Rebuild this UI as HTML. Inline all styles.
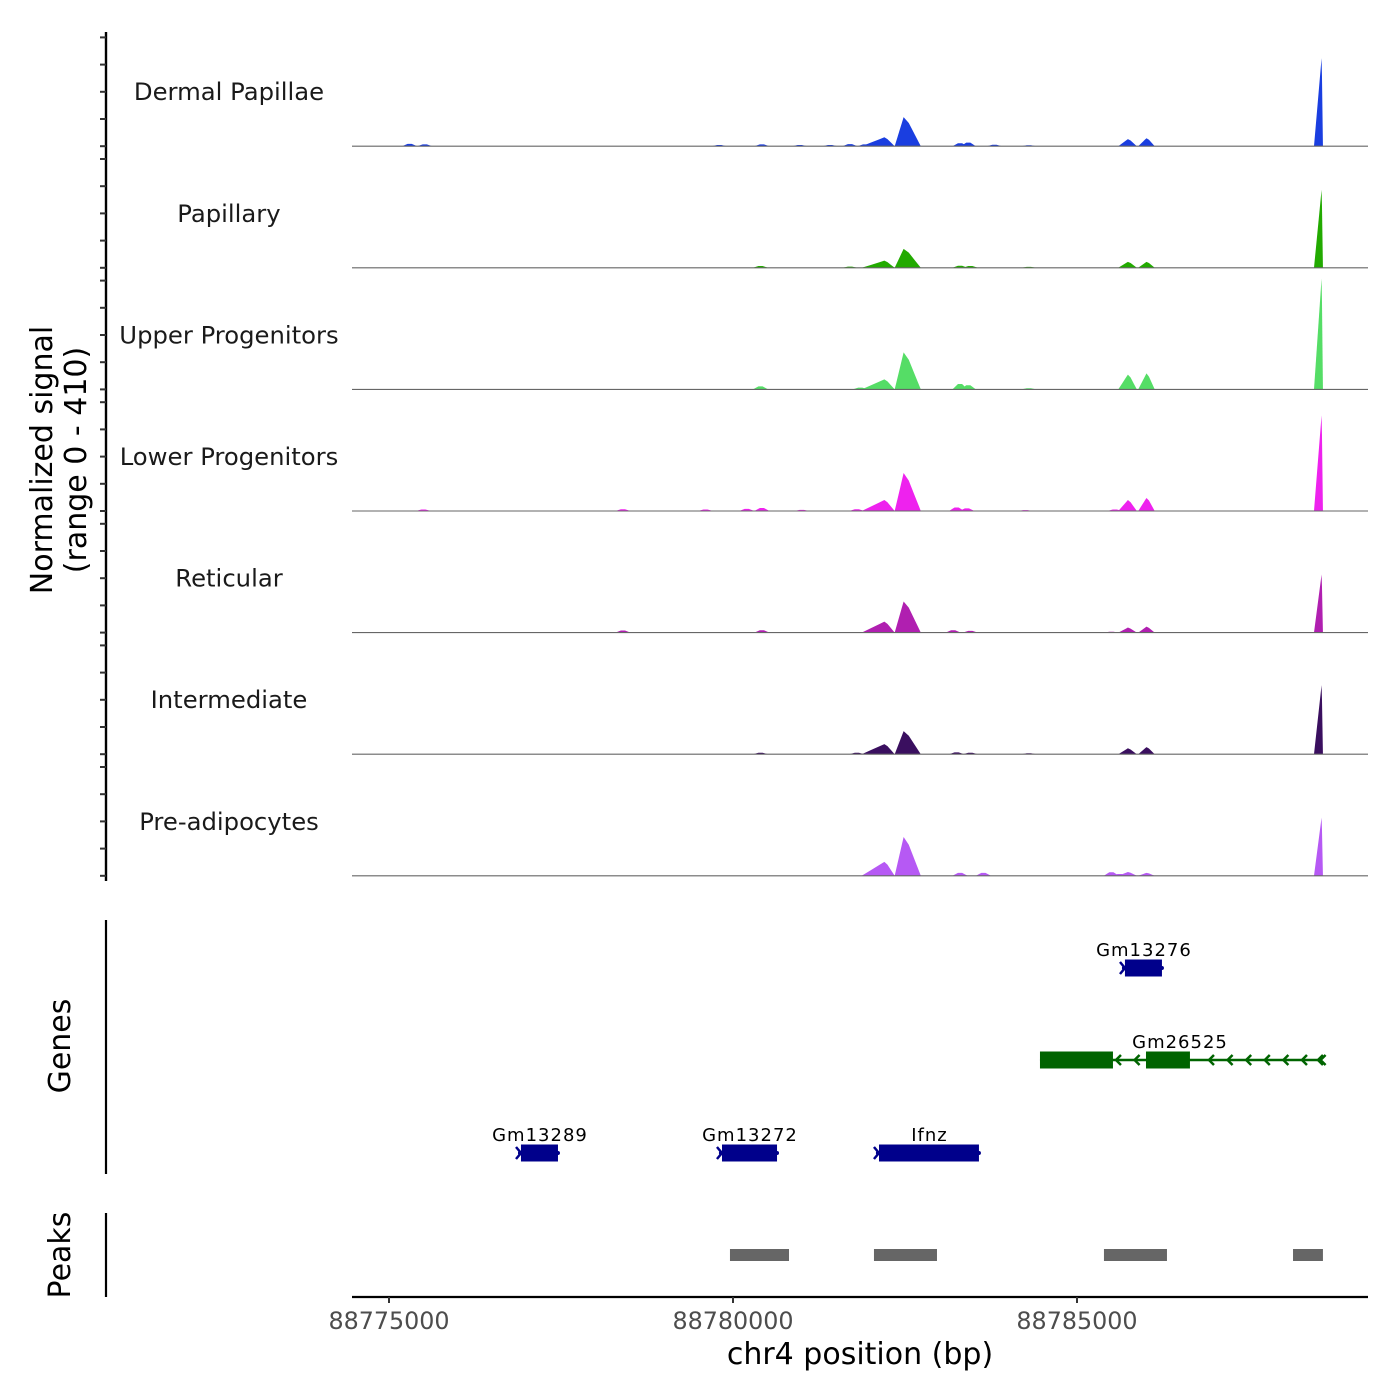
<!DOCTYPE html>
<html><head><meta charset="utf-8"><style>
html,body{margin:0;padding:0;background:#fff}
svg{display:block;font-family:"DejaVu Sans","Liberation Sans",sans-serif}
</style></head><body>
<svg id="chart" width="1400" height="1400" viewBox="0 0 1400 1400">
<g id="tracks"></g>
<g id="leftaxis"></g>
<text transform="translate(52,460) rotate(-90)" text-anchor="middle" font-size="30" fill="#000">Normalized signal</text>
<text transform="translate(86,460) rotate(-90)" text-anchor="middle" font-size="30" fill="#000">(range 0 - 410)</text>
<line x1="106" y1="920" x2="106" y2="1174" stroke="#000" stroke-width="2.2"/>
<text transform="translate(70,1046) rotate(-90)" text-anchor="middle" font-size="30" fill="#000">Genes</text>
<line x1="106" y1="1213" x2="106" y2="1297" stroke="#000" stroke-width="2.2"/>
<text transform="translate(70,1255) rotate(-90)" text-anchor="middle" font-size="30" fill="#000">Peaks</text>
<g id="genes"></g>
<g id="peaks"></g>
<g id="xaxis"></g>
<text x="860" y="1364" text-anchor="middle" font-size="30" fill="#000">chr4 position (bp)</text>
</svg>
<script>
const trackNames=["Dermal Papillae","Papillary","Upper Progenitors","Lower Progenitors","Reticular","Intermediate","Pre-adipocytes"];
const trackColors=["#1a3ee0","#22aa00","#55dd66","#ee22ee","#b01fb0","#3a0f5f","#b659f4"];
const peakPos=[88782200,88782480,88785740,88786010,88788555];
const peakWL=[330,130,140,120,110];
const peakWR=[150,250,130,120,20];
const peakVals=[
 [30,98,24,27,297],
 [24,64,20,20,263],
 [34,125,50,54,374],
 [37,128,37,44,323],
 [37,105,17,20,196],
 [34,78,20,24,233],
 [47,131,13,10,196]
];
const bumps=[
 [[88775300,8],[88775520,6],[88779800,4],[88780420,6],[88780970,4],[88781410,4],[88781700,7],[88781920,6],[88783300,10],[88783420,12],[88783800,5],[88784300,3]],
 [[88780400,6],[88781700,4],[88783300,7],[88783450,6],[88784300,3]],
 [[88780400,10],[88781850,6],[88783300,18],[88783420,14],[88784300,4]],
 [[88775500,5],[88778400,6],[88779600,5],[88780200,7],[88780420,10],[88781000,4],[88781800,6],[88783250,12],[88783400,9],[88784250,3],[88785550,5]],
 [[88778400,7],[88780420,8],[88783200,8],[88783450,6],[88785500,3]],
 [[88780400,5],[88781800,5],[88783250,6],[88783450,5],[88784300,3]],
 [[88783300,10],[88783640,10],[88785500,12],[88785620,6]]
];
const xTicks=[88775000,88780000,88785000];
const geneNames=["Gm13276","Gm26525","Gm13289","Gm13272","Ifnz"];
const geneStart=[88785654,88784462,88776875,88779796,88782078];
const geneEnd=[88786235,88788561,88777456,88780640,88783575];
const geneRow=[0,1,2,2,2];
const geneStrand=[1,-1,1,1,1];
const geneExons=[[[88785697,88786235]],[[88784462,88785523],[88786003,88786642]],[[88776918,88777456]],[[88779840,88780640]],[[88782122,88783575]]];
const peakStart=[88779956,88782049,88785392,88788140];
const peakEnd=[88780814,88782965,88786308,88788575];

const NS="http://www.w3.org/2000/svg";
const X0=352,X1=1368,B0=88774462,B1=88789230;
const xs=b=>X0+(b-B0)/(B1-B0)*(X1-X0);
const trackH=121.6,baseY0=146.2,maxV=410;
function mk(tag,attrs,parent){const e=document.createElementNS(NS,tag);for(const k in attrs)e.setAttribute(k,attrs[k]);parent.appendChild(e);return e;}
const tg=document.getElementById('tracks');
for(let t=0;t<trackNames.length;t++){
  const by=baseY0+t*trackH;
  const ys=v=>by-v/maxV*trackH;
  const g=mk('g',{},tg);
  
  
  const lab=mk('text',{x:229,y:by-46,'text-anchor':'middle','font-size':24.3,fill:'#1a1a1a'},g);
  lab.textContent=trackNames[t];
  
  
  for(let p=0;p<peakPos.length;p++){
    const c=peakPos[p],h=peakVals[t][p],wl=peakWL[p],wr=peakWR[p];
    const d=`M${xs(c-wl)},${by} L${xs(c-0.6*wl)},${ys(h*0.4)} L${xs(c-0.2*wl)},${ys(h*0.8)} L${xs(c)},${ys(h)} L${xs(c+0.3*wr)},${ys(h*0.8)} L${xs(c+0.65*wr)},${ys(h*0.4)} L${xs(c+wr)},${by} Z`;
    const pa=mk('path',{d:d,fill:trackColors[t]},g);
    
    
  }
  for(const [c,h] of bumps[t]){
    const pa=mk('path',{d:`M${xs(c-110)},${by} L${xs(c-30)},${ys(h)} L${xs(c+30)},${ys(h)} L${xs(c+110)},${by} Z`,fill:trackColors[t]},g);
    
    
  }
  const bl=mk('line',{x1:X0,x2:X1,y1:by,y2:by,stroke:'#666','stroke-width':1.1},g);
  
  
}
const la=document.getElementById('leftaxis');
const al=mk('line',{x1:106,x2:106,y1:32,y2:881,stroke:'#000','stroke-width':2.4},la);


for(let t=0;t<7;t++){const by=baseY0+t*trackH;for(let k=0;k<5;k++){const y=by-k*27.2;
 const tk=mk('line',{x1:100,x2:106,y1:y,y2:y,stroke:'#333','stroke-width':2},la);
 
 }}
const gg=document.getElementById('genes');
const rowY=[968,1060,1153];
for(let i=0;i<geneNames.length;i++){
  const y=rowY[geneRow[i]],col=geneStrand[i]>0?'#00008b':'#006400';
  const g=mk('g',{},gg);
  
  
  const x1=xs(geneStart[i]),x2=xs(geneEnd[i]);
  mk('line',{x1:x1,x2:x2,y1:y,y2:y,stroke:col,'stroke-width':2.5},g);
  for(const [s,e] of geneExons[i]) mk('rect',{x:xs(s),y:y-8.5,width:xs(e)-xs(s),height:17,fill:col},g);
  if(geneStrand[i]>0){
    mk('path',{d:`M${x1-2},${y-6} L${x1+3},${y} L${x1-2},${y+6}`,stroke:col,'stroke-width':2.5,fill:'none'},g);
    mk('circle',{cx:x2,cy:y,r:2,fill:col},g);
  }else{
    for(let xx=x1+77;xx<=x2;xx+=18.6){
      if(xx>xs(geneExons[i][1][0])-2&&xx<xs(geneExons[i][1][1])+8)continue;
      mk('path',{d:`M${xx+4},${y-5} L${xx-1},${y} L${xx+4},${y+5}`,stroke:col,'stroke-width':2.5,fill:'none'},g);
    }
    mk('path',{d:`M${x2+1},${y-5} L${x2-4},${y} L${x2+1},${y+5}`,stroke:col,'stroke-width':2.5,fill:'none'},g);
  }
  const tx=mk('text',{x:(geneRow[i]==1?1180:(x1+x2)/2+2),y:y-12,'text-anchor':'middle','font-size':18,fill:'#000','letter-spacing':'1'},g);
  tx.textContent=geneNames[i];
}
const pg=document.getElementById('peaks');
for(let i=0;i<peakStart.length;i++){
  const r=mk('rect',{x:xs(peakStart[i]),y:1249,width:xs(peakEnd[i])-xs(peakStart[i]),height:12,fill:'#666'},pg);
  
  
}
const xg=document.getElementById('xaxis');
const xl=mk('line',{x1:X0,x2:X1,y1:1297,y2:1297,stroke:'#000','stroke-width':2.2},xg);


for(const t of xTicks){
  const tk=mk('line',{x1:xs(t),x2:xs(t),y1:1297,y2:1303,stroke:'#333','stroke-width':2},xg);
  
  
  const tl=mk('text',{x:xs(t),y:1329,'text-anchor':'middle','font-size':23.8,fill:'#4d4d4d'},xg);
  tl.textContent=t;
  
  
}
</script>
</body></html>
